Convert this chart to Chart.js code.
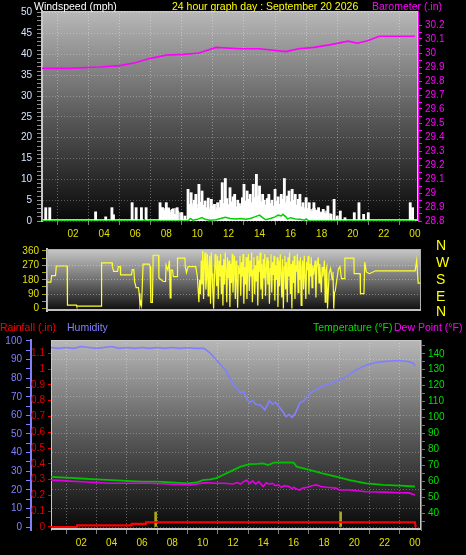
<!DOCTYPE html>
<html>
<head>
<meta charset="utf-8">
<script src="https://cdn.jsdelivr.net/npm/chart.js@4.4.0/dist/chart.umd.min.js"></script>
<style>
html,body{margin:0;padding:0;background:#000;width:466px;height:555px;overflow:hidden;font-family:"Liberation Sans",Arial,sans-serif;}
canvas{position:absolute;left:0;}
.t{position:absolute;font-size:10.5px;line-height:12px;white-space:nowrap;}
.d{position:absolute;left:436px;font-size:14px;line-height:14px;color:#ffff00;}
</style>
</head>
<body>
<canvas id="c1" width="466" height="240" style="top:0"></canvas>
<canvas id="c2" width="466" height="80" style="top:240px"></canvas>
<canvas id="c3" width="466" height="235" style="top:320px"></canvas>

<div class="t" style="left:34px;top:0;color:#fff">Windspeed (mph)</div>
<div class="t" style="left:172px;top:0;color:#ffff00">24 hour graph day : September 20 2026</div>
<div class="t" style="left:372px;top:0;color:#ff00ff">Barometer (.in)</div>
<div class="d" style="top:238px">N</div>
<div class="d" style="top:255px">W</div>
<div class="d" style="top:272px">S</div>
<div class="d" style="top:289px">E</div>
<div class="d" style="top:304px">N</div>
<div class="t" style="left:0;top:321px;color:#ff0000">Rainfall (.in)</div>
<div class="t" style="left:67px;top:321px;color:#8080ff">Humidity</div>
<div class="t" style="left:313px;top:321px;color:#00e000">Temperature (°F)</div>
<div class="t" style="left:394px;top:321px;color:#ff00ff">Dew Point (°F)</div>

<script>
var FONT = '"Liberation Sans", Arial, sans-serif';

// x axis
var hourTicks = [2,4,6,8,10,12,14,16,18,20,22,24];
var hourLabels = ['02','04','06','08','10','12','14','16','18','20','22','00'];

// axis ticks
var windTicks = [0,5,10,15,20,25,30,35,40,45,50];
var baroTicks = [28.8,28.9,29,29.1,29.2,29.3,29.4,29.5,29.6,29.7,29.8,29.9,30,30.1,30.2];
var dirTicks = [0,90,180,270,360];
var humTicks = [0,10,20,30,40,50,60,70,80,90,100];
var rainTicks = [0,0.1,0.2,0.3,0.4,0.5,0.6,0.7,0.8,0.9,1,1.1];
var tempTicks = [40,50,60,70,80,90,100,110,120,130,140];

// barometer
var baroHours = [0,1.7,3.7,5,6,6.9,8,9.1,10.1,11.2,12.7,14,15.7,16.5,17.5,18.6,19.7,20.3,21,21.7,24];
var baroValues = [29.89,29.89,29.9,29.91,29.93,29.96,29.985,29.99,30.0,30.04,30.03,30.03,30.01,30.03,30.04,30.06,30.085,30.07,30.09,30.12,30.12];

// wind gust (white bars)
var gustHours = [0.24,0.5,3.45,4.1,4.5,4.6,5.8,6.06,6.4,6.7,7.6,7.75,7.85,8.0,8.15,8.3,8.4,8.55,8.7,9.0,9.2,
  9.4,9.5,9.6,9.7,9.8,9.9,10.0,10.1,10.2,10.3,10.4,10.5,10.6,10.7,10.8,10.9,11.0,11.1,11.2,11.3,11.4,11.5,11.6,11.7,11.8,11.9,
  12.0,12.1,12.2,12.3,12.4,12.5,12.6,12.7,12.8,12.9,13.0,13.1,13.2,13.3,13.4,13.5,13.6,13.7,13.8,13.9,
  14.0,14.1,14.2,14.3,14.4,14.5,14.6,14.7,14.8,14.9,15.0,15.1,15.2,15.3,15.4,15.5,15.6,15.7,15.8,15.9,
  16.0,16.1,16.2,16.3,16.4,16.5,16.6,16.7,16.8,16.9,17.0,17.1,17.2,17.35,17.5,17.65,17.8,17.95,
  18.1,18.25,18.4,18.6,18.8,19.0,19.2,19.5,20.1,20.4,20.7,21.0,23.7,23.85];
var gustValues = [3.2,3.2,2.2,1.0,3.2,1.5,4.4,3.2,3.2,3.2,4.4,3.2,2.5,4.4,3.0,2.0,2.8,1.6,3.2,2.0,1.2,
  7.6,4.0,6.8,3.5,5.0,6.4,3.0,8.8,4.5,7.2,3.8,4.8,3.2,5.5,2.8,5.2,3.6,4.0,2.6,4.4,3.0,5.0,9.2,4.2,10.2,5.4,
  3.8,8.0,4.6,5.8,6.4,3.4,5.0,4.2,3.6,5.6,8.8,4.8,7.2,5.2,6.4,4.4,8.8,5.6,11.2,6.0,
  8.4,4.6,6.4,5.0,3.8,5.4,6.4,4.2,5.0,3.6,7.6,4.8,5.8,4.0,6.4,5.2,10.2,4.4,6.0,7.2,
  4.6,7.6,5.0,6.4,3.8,5.2,6.4,3.4,4.4,2.8,5.6,3.0,4.4,2.4,4.4,2.6,3.2,2.0,
  2.8,1.8,3.6,1.6,5.2,1.2,2.4,0.8,2.0,4.4,1.6,2.0,4.4,3.2];

// wind speed (grey bars)
var speedHours = [7.7,7.9,8.1,8.3,8.5,8.7,8.9,9.5,9.7,9.9,10.1,10.3,10.5,10.7,10.9,11.1,11.3,11.5,11.7,11.9,
  12.1,12.3,12.5,12.7,12.9,13.1,13.3,13.5,13.7,13.9,14.1,14.3,14.5,14.7,14.9,15.1,15.3,15.5,15.7,15.9,
  16.1,16.3,16.5,16.7,16.9,17.1,17.3,17.5,17.7,17.9,18.1,18.3,18.5];
var speedValues = [3.2,3.0,3.2,2.6,3.0,2.4,2.0,3.6,4.2,3.8,4.0,3.4,3.0,2.8,3.2,2.6,3.0,3.2,3.8,3.4,
  4.0,3.6,3.0,3.4,4.0,3.8,4.2,3.6,4.4,4.0,3.6,3.8,3.2,3.6,3.0,3.8,4.0,4.4,3.6,4.0,
  3.6,3.2,3.6,2.8,3.2,2.6,2.8,3.0,2.4,2.2,2.0,2.4,1.8];

// average wind (green line)
var avgHours = [0,6.5,6.6,6.7,9.4,9.55,9.7,10.0,10.3,10.5,10.8,11.2,11.5,11.8,12.1,12.5,12.8,13.1,13.4,13.7,14.0,14.2,14.4,14.7,15.0,15.2,15.4,15.5,15.7,15.8,16.0,16.3,16.6,16.9,17.0,17.2,24];
var avgValues = [0,0,0.3,0,0,0.6,0.2,0.4,0.8,0.4,0.2,0.3,0.6,0.9,0.6,0.5,0.6,0.4,0.6,1.0,1.4,0.8,0.3,0.6,1.0,1.4,1.2,1.6,1.0,0.5,0.8,0.5,0.4,0.2,0.5,0,0];

// wind direction
var dirHours = [0,0.25,0.3,0.55,0.6,1.3,1.32,1.9,1.92,3.5,3.52,4.2,4.22,4.3,4.55,4.6,4.72,4.75,5.45,5.5,5.6,5.65,5.75,5.9,5.95,6.0,6.05,6.1,6.2,6.6,6.65,6.7,6.8,6.85,7.2,7.22,7.5,7.65,7.68,7.8,7.9,7.95,8.0,8.1,8.15,8.4,8.42,8.9,8.92,9.0,9.1,9.6,
  9.7,9.75,9.8,9.85,9.9,9.95,10.0,10.05,10.1,10.15,10.2,10.25,10.3,10.35,10.4,10.45,10.5,10.55,10.6,10.65,10.7,10.75,10.8,10.85,10.9,10.95,
  11.0,11.05,11.1,11.15,11.2,11.25,11.3,11.35,11.4,11.45,11.5,11.55,11.6,11.65,11.7,11.75,11.8,11.85,11.9,11.95,
  12.0,12.05,12.1,12.15,12.2,12.25,12.3,12.35,12.4,12.45,12.5,12.55,12.6,12.65,12.7,12.75,12.8,12.85,12.9,12.95,
  13.0,13.05,13.1,13.15,13.2,13.25,13.3,13.35,13.4,13.45,13.5,13.55,13.6,13.65,13.7,13.75,13.8,13.85,13.9,13.95,
  14.0,14.05,14.1,14.15,14.2,14.25,14.3,14.35,14.4,14.45,14.5,14.55,14.6,14.65,14.7,14.75,14.8,14.85,14.9,14.95,
  15.0,15.05,15.1,15.15,15.2,15.25,15.3,15.35,15.4,15.45,15.5,15.55,15.6,15.65,15.7,15.75,15.8,15.85,15.9,15.95,
  16.0,16.05,16.1,16.15,16.2,16.25,16.3,16.35,16.4,16.45,16.5,16.55,16.6,16.65,16.7,16.75,16.8,16.85,16.9,16.95,
  17.0,17.05,17.1,17.15,17.2,17.3,17.35,17.4,17.5,17.55,17.6,17.7,17.75,17.8,17.9,17.95,18.0,18.05,18.1,18.2,18.3,18.4,18.45,18.5,18.55,
  18.6,18.8,18.9,19.0,19.2,19.22,19.8,19.82,20.2,20.22,20.45,20.5,20.6,20.8,21.2,23.75,23.85,23.95,24.1];
var dirValues = [165,165,206,206,266,266,22,22,15,15,285,285,262,232,232,262,262,210,210,243,243,169,131,131,94,19,40,19,277,277,262,39,39,333,333,191,169,169,272,240,300,67,240,240,200,200,315,315,262,225,262,262,
  200,120,40,180,90,300,150,360,60,300,350,120,200,340,80,260,330,30,350,220,100,0,180,340,260,140,
  330,60,300,200,340,90,270,20,310,150,350,240,40,320,190,300,10,280,160,340,
  100,250,330,60,300,180,5,270,220,330,80,290,200,340,30,260,150,320,60,280,
  340,110,300,200,350,40,240,320,90,270,170,330,20,300,230,350,120,280,60,310,
  190,340,80,260,320,150,300,30,250,340,100,290,210,330,50,270,180,320,10,300,
  140,340,220,70,310,0,260,330,120,290,40,320,200,350,90,280,0,300,160,330,
  60,270,230,340,100,300,180,320,20,260,300,120,330,200,60,290,240,330,90,280,
  200,320,130,270,210,300,70,250,320,160,280,100,260,200,300,40,240,260,0,220,250,180,230,0,100,
  112,247,262,187,187,315,315,218,218,94,94,290,229,218,236,236,300,159,159];

// humidity
var humHours = [0,0.5,1,1.5,2,2.5,3,3.5,4,4.5,5,5.5,6,6.5,7,7.5,8,8.5,9,9.5,10.1,10.5,11.1,11.5,12.0,12.2,12.5,12.7,12.9,13.1,13.3,13.5,13.8,14.1,14.3,14.4,14.6,14.8,15.1,15.3,15.5,15.7,15.9,16.1,16.4,16.7,17.1,17.4,17.7,18.0,18.4,19.0,19.5,20.1,20.8,21.5,22.1,22.8,23.5,23.9,24];
var humValues = [96.5,96,96.5,96,97,96.5,96,96.5,97,96,96.5,96,96.5,96,96.5,96,96.5,96,96.3,96,96,93.5,88,84.4,77,75,72,73,69,67,68,66,65.6,63,66,68,66,67,64,62,59.3,60.5,59,61,66.6,68,72,73.5,74.7,76,77,79,80.8,84.4,87,88.5,89,89.5,89,88,86.5];

// temperature and dew point
var tempHours = [0,1,2,3,4,5,6,7,8,9,9.6,10.0,10.5,10.9,11.3,11.8,12.5,13.1,13.6,14.0,14.3,14.7,15.3,16.0,16.2,16.6,17.1,17.9,18.8,19.7,20.2,20.8,21.9,23,24];
var tempValues = [63,62.5,62,61.5,61,60.5,60,60,59.5,59,59.5,61,61.5,62.3,64,66.3,69.4,71,71.2,71.5,70.4,71.9,72,71.9,69.4,68.5,67.3,65.2,63.1,61,60,59,58,57.5,57];
var dewHours = [0,1,2,3,3.9,5,6.5,8,9.2,10.2,10.8,11.4,12,12.3,12.5,12.7,12.9,13.1,13.3,13.5,13.7,13.9,14.0,14.2,14.4,14.6,14.8,15.0,15.2,15.4,15.7,15.9,16.0,16.2,16.4,16.6,16.9,17.2,17.5,17.8,18.2,18.8,19.0,19.7,20.8,22,23,23.6,24];
var dewValues = [61,60.5,60,59.5,59,59,59,58.5,58,59.4,59,59,58.6,59.5,58.5,60,61,59,60.5,58.5,60,58,57,59.4,58.5,59,57.5,58,56.5,57.5,57,55.5,56.5,55.5,54.8,56,56.5,57.5,58,57,56.5,56,54.8,54.8,53.75,53.5,53.1,53,51.7];

// rainfall and rain rate
var rainHours = [0,1.7,1.72,5.3,5.32,6.25,6.27,24,24.05];
var rainValues = [0,0,0.01,0.01,0.02,0.02,0.03,0.03,0];
var rateHours = [6.9,19.1];
var rateValues = [0.095,0.095];

function pts(hs, vs){
  return hs.map(function(h, i){ return {x: h, y: vs[i]}; });
}
function isMajor(list, v){
  for (var i = 0; i < list.length; i++) if (Math.abs(list[i] - v) < 1e-6) return true;
  return false;
}
function fmt(v){ return String(Math.round(v * 10) / 10); }
function steps(a, b, s){
  var out = [];
  for (var v = a; v <= b + 1e-9; v += s) out.push(Math.round(v * 1000) / 1000);
  return out;
}

var bgPlugin = {
  id: 'bg',
  beforeDraw: function(chart, args, o){
    var a = chart.chartArea, ctx = chart.ctx;
    var g = ctx.createLinearGradient(0, a.top, 0, a.bottom);
    g.addColorStop(0, o.top);
    g.addColorStop(0.5, o.mid);
    g.addColorStop(1, o.bottom);
    ctx.save();
    ctx.fillStyle = g;
    ctx.fillRect(a.left, a.top, a.right - a.left, a.bottom - a.top);
    ctx.restore();
  },
  beforeDatasetsDraw: function(chart, args, o){
    var a = chart.chartArea, ctx = chart.ctx;
    ctx.save();
    ctx.strokeStyle = o.frame;
    ctx.lineWidth = 1;
    ctx.strokeRect(a.left + 0.5, a.top + 0.5, a.right - a.left - 1, a.bottom - a.top - 1);
    if (o.base) {
      ctx.strokeStyle = o.base;
      ctx.lineWidth = 2;
      ctx.beginPath();
      ctx.moveTo(a.left, a.bottom - 1);
      ctx.lineTo(a.right, a.bottom - 1);
      ctx.stroke();
    }
    ctx.restore();
  }
};

function yAxis(o){
  return {
    type: 'linear', position: o.pos, min: o.min, max: o.max, weight: o.weight || 0,
    afterFit: function(s){ s.width = o.width; },
    afterBuildTicks: function(s){ s.ticks = o.all.map(function(v){ return {value: v}; }); },
    ticks: {
      autoSkip: false, color: o.color, padding: o.pad,
      font: {size: 10, family: FONT},
      callback: function(v){ return isMajor(o.major, v) ? fmt(v) : ''; }
    },
    grid: {
      drawOnChartArea: !!o.grid, tickLength: o.tick, tickColor: o.tickColor,
      color: function(c){ return (o.grid && c.tick && isMajor(o.gridAt || o.major, c.tick.value)) ? o.grid : 'rgba(0,0,0,0)'; }
    },
    border: {color: o.border, width: o.bw || 1, dash: [1, 2]}
  };
}

function xAxis(min, max, show, height){
  return {
    type: 'linear', min: min, max: max, offset: false, display: show,
    afterFit: function(s){ s.height = height; },
    afterBuildTicks: function(s){ s.ticks = hourTicks.map(function(v){ return {value: v}; }); },
    ticks: {
      autoSkip: false, maxRotation: 0, color: '#e0e000', padding: 3,
      font: {size: 10, family: FONT},
      callback: function(v){ var i = hourTicks.indexOf(v); return i < 0 ? '' : hourLabels[i]; }
    },
    grid: {color: 'rgba(255,255,255,0.35)', tickLength: 4, tickColor: '#808080'},
    border: {display: false, dash: [1, 2]}
  };
}

Chart.defaults.font.family = FONT;

// ---- top: wind speed + barometer
new Chart(document.getElementById('c1'), {
  type: 'bar',
  data: {
    datasets: [
      {type: 'line', data: pts(baroHours, baroValues), yAxisID: 'yb', borderColor: '#ff00ff', borderWidth: 1.6, pointRadius: 0},
      {type: 'line', data: pts(avgHours, avgValues), yAxisID: 'y', borderColor: '#00d000', borderWidth: 1.5, pointRadius: 0},
      {data: pts(gustHours, gustValues), yAxisID: 'y', backgroundColor: '#ffffff', barThickness: 2.2, grouped: false},
      {data: pts(speedHours, speedValues), yAxisID: 'y', backgroundColor: '#c8c8c8', barThickness: 3.4, grouped: false}
    ]
  },
  options: {
    responsive: false, animation: false,
    layout: {padding: {top: 10, left: 0, right: 0, bottom: 0}},
    plugins: {legend: {display: false}, tooltip: {enabled: false},
      bg: {top: '#b8b8b8', mid: '#5a5a5a', bottom: '#080808', frame: '#c8c8c8', base: '#90e890'}},
    scales: {
      x: xAxis(0, 24.2, true, 19),
      y: yAxis({pos: 'left', min: 0, max: 50.4, width: 42, all: steps(0, 50, 1), major: windTicks, gridAt: windTicks,
        color: '#d8e4ff', pad: 5, tick: 5, tickColor: '#909090', grid: 'rgba(255,255,255,0.28)', border: '#c8c8c8', bw: 2}),
      yb: yAxis({pos: 'right', min: 28.8, max: 30.3, width: 48, all: steps(28.8, 30.2, 0.05), major: baroTicks,
        color: '#ff00ff', pad: 3, tick: 4, tickColor: '#ff00ff', border: '#ff00ff'})
    }
  },
  plugins: [bgPlugin]
});

// ---- middle: wind direction
new Chart(document.getElementById('c2'), {
  type: 'line',
  data: {
    datasets: [
      {data: pts(dirHours, dirValues), borderColor: '#ffff30', borderWidth: 1.2, pointRadius: 0}
    ]
  },
  options: {
    responsive: false, animation: false,
    layout: {padding: {top: 4, left: 0, right: 45, bottom: 7}},
    plugins: {legend: {display: false}, tooltip: {enabled: false},
      bg: {top: '#c8c8c8', mid: '#707070', bottom: '#0c0c0c', frame: '#b0b0b0', base: '#c0c0c0'}},
    scales: {
      x: xAxis(0, 24.13, false, 0),
      y: yAxis({pos: 'left', min: -15, max: 372, width: 47, all: steps(0, 360, 45), major: dirTicks, gridAt: [90, 180, 270],
        color: '#e0e000', pad: 3, tick: 5, tickColor: '#a0a000', grid: 'rgba(255,255,255,0.35)', border: '#c8c8c8', bw: 2})
    }
  },
  plugins: [bgPlugin]
});

// ---- bottom: rain, humidity, temperature, dew point
new Chart(document.getElementById('c3'), {
  type: 'bar',
  data: {
    datasets: [
      {type: 'line', data: pts(rainHours, rainValues), yAxisID: 'yr', borderColor: '#ff0000', borderWidth: 2.2, pointRadius: 0},
      {type: 'line', data: pts(humHours, humValues), yAxisID: 'yh', borderColor: '#8080ff', borderWidth: 1.6, pointRadius: 0},
      {type: 'line', data: pts(dewHours, dewValues), yAxisID: 'yt', borderColor: '#e000e0', borderWidth: 1.6, pointRadius: 0},
      {type: 'line', data: pts(tempHours, tempValues), yAxisID: 'yt', borderColor: '#00c000', borderWidth: 1.8, pointRadius: 0},
      {data: pts(rateHours, rateValues), yAxisID: 'yr', backgroundColor: '#a8a820', barThickness: 2, grouped: false}
    ]
  },
  options: {
    responsive: false, animation: false,
    layout: {padding: {top: 20, left: 0, right: 0, bottom: 0}},
    plugins: {legend: {display: false}, tooltip: {enabled: false},
      bg: {top: '#b8b8b8', mid: '#5a5a5a', bottom: '#080808', frame: '#c8c8c8', base: '#c8c8c8'}},
    scales: {
      x: xAxis(0, 24.4, true, 25),
      yh: yAxis({pos: 'left', weight: 1, min: -1.6, max: 100.5, width: 31, all: steps(0, 100, 5), major: humTicks, gridAt: humTicks,
        color: '#8080ff', pad: 4, tick: 5, tickColor: '#8080ff', grid: 'rgba(255,255,255,0.28)', border: '#8080ff', bw: 2}),
      yr: yAxis({pos: 'left', weight: 0, min: -0.019, max: 1.184, width: 20, all: rainTicks, major: rainTicks,
        color: '#e00000', pad: 3, tick: 3, tickColor: '#e00000', border: '#ff4040', bw: 1}),
      yt: yAxis({pos: 'right', min: 29.8, max: 148.6, width: 45, all: steps(35, 145, 5), major: tempTicks,
        color: '#00e000', pad: 3, tick: 4, tickColor: '#00c000', border: '#00c000'})
    }
  },
  plugins: [bgPlugin]
});
</script>
</body>
</html>
